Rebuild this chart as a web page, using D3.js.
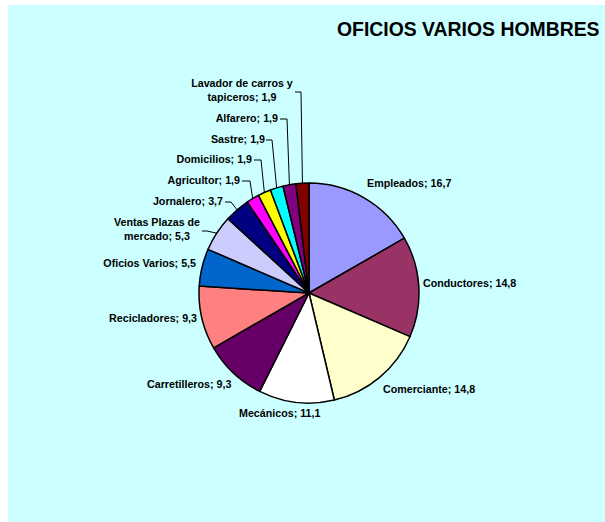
<!doctype html>
<html>
<head>
  <meta charset="utf-8">
  <script src="https://d3js.org/d3.v7.min.js"></script>
</head>
<style>
  body {
    margin: 0;
    background: #ffffff;
  }

  svg text {
    fill: black;
    font-family: "Liberation Sans", Arial, sans-serif;
    font-weight: bold;
  }
</style>
<body>
<svg></svg>

<script>
  // data
  const categories = ["Empleados", "Conductores", "Comerciante", "Mecánicos", "Carretilleros",
    "Recicladores", "Oficios Varios", "Ventas Plazas de mercado", "Jornalero", "Agricultor",
    "Domicilios", "Sastre", "Alfarero", "Lavador de carros y tapiceros"];
  const values = [16.7, 14.8, 14.8, 11.1, 9.3, 9.3, 5.5, 5.3, 3.7, 1.9, 1.9, 1.9, 1.9, 1.9];
  const colors = ["#9999ff", "#993366", "#ffffcc", "#ffffff", "#660066", "#ff8080", "#0066cc",
    "#ccccff", "#000080", "#ff00ff", "#ffff00", "#00ffff", "#800080", "#800000"];

  // label layout: lines, anchor x, first baseline y, text-anchor, leader elbow points or null
  const labelLayout = [
    {lines: ["Empleados; 16,7"], x: 367, y: 187, anchor: "start", elbow: null},
    {lines: ["Conductores; 14,8"], x: 423, y: 287, anchor: "start", elbow: null},
    {lines: ["Comerciante; 14,8"], x: 383, y: 393, anchor: "start", elbow: null},
    {lines: ["Mecánicos; 11,1"], x: 239, y: 417, anchor: "start", elbow: null},
    {lines: ["Carretilleros; 9,3"], x: 147, y: 388, anchor: "start", elbow: null},
    {lines: ["Recicladores; 9,3"], x: 197, y: 322, anchor: "end", elbow: null},
    {lines: ["Oficios Varios; 5,5"], x: 196, y: 267, anchor: "end", elbow: null},
    {lines: ["Ventas Plazas de", "mercado; 5,3"], x: 157, y: 226, anchor: "middle", elbow: [[202, 231], [207, 231]]},
    {lines: ["Jornalero; 3,7"], x: 223, y: 205, anchor: "end", elbow: [[225, 202], [231, 202]]},
    {lines: ["Agricultor; 1,9"], x: 240, y: 184, anchor: "end", elbow: [[242, 181], [250, 181]]},
    {lines: ["Domicilios; 1,9"], x: 252, y: 163, anchor: "end", elbow: [[254, 160], [261, 160]]},
    {lines: ["Sastre; 1,9"], x: 265, y: 143, anchor: "end", elbow: [[266, 140], [272, 140]]},
    {lines: ["Alfarero; 1,9"], x: 278, y: 122, anchor: "end", elbow: [[280, 119], [287, 119]]},
    {lines: ["Lavador de carros y", "tapiceros; 1,9"], x: 242, y: 87, anchor: "middle", elbow: [[295, 92], [301, 92]]}
  ];

  const width = 605, height = 522;
  const cx = 309, cy = 293, radius = 110;

  const svg = d3.select("svg")
    .attr("width", width)
    .attr("height", height);

  svg.append("rect")
    .attr("x", 8)
    .attr("y", 5)
    .attr("width", width - 8)
    .attr("height", height - 5)
    .attr("fill", "#ccffff");

  svg.append("text")
    .attr("x", 337)
    .attr("y", 36)
    .style("font-size", "19.4px")
    .text("OFICIOS VARIOS HOMBRES");

  const pie = d3.pie().sort(null).value(d => d);
  const arcs = pie(values);
  const arc = d3.arc().innerRadius(0).outerRadius(radius);

  const g = svg.append("g").attr("transform", `translate(${cx},${cy})`);

  g.selectAll("path")
    .data(arcs)
    .enter().append("path")
    .attr("d", arc)
    .attr("fill", (d, i) => colors[i])
    .attr("stroke", "black")
    .attr("stroke-width", 1.5)
    .attr("stroke-linejoin", "round");

  // leader lines go to the middle of the slice edge
  arcs.forEach(function (d, i) {
    const lay = labelLayout[i];
    if (!lay.elbow) return;
    const mid = (d.startAngle + d.endAngle) / 2;
    const ex = cx + radius * Math.sin(mid);
    const ey = cy - radius * Math.cos(mid);
    const pts = lay.elbow.concat([[ex, ey]]);
    svg.append("path")
      .attr("d", d3.line()(pts))
      .attr("fill", "none")
      .attr("stroke", "black")
      .attr("stroke-width", 1);
  });

  labelLayout.forEach(function (lay) {
    const t = svg.append("text")
      .attr("x", lay.x)
      .attr("y", lay.y)
      .attr("text-anchor", lay.anchor)
      .style("font-size", "10.7px");
    lay.lines.forEach(function (line, k) {
      t.append("tspan")
        .attr("x", lay.x)
        .attr("dy", k === 0 ? 0 : 13.5)
        .text(line);
    });
  });
</script>
</body>
</html>
